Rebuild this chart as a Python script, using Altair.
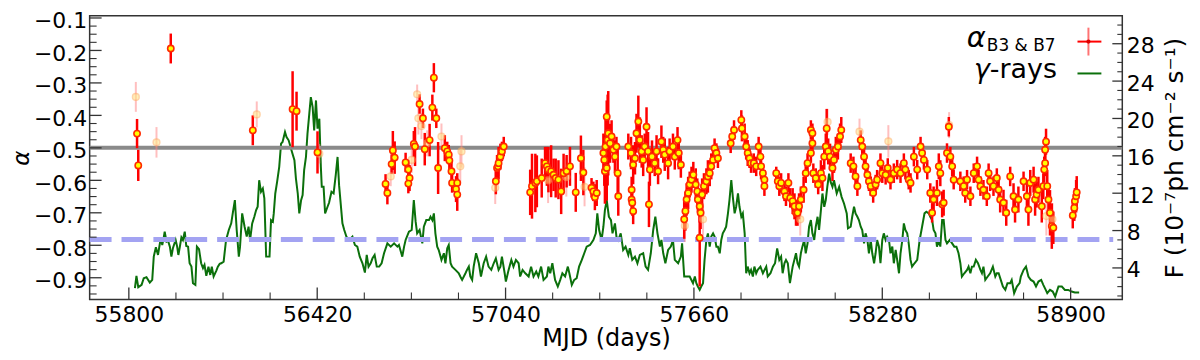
import altair as alt
import pandas as pd

# ---------------- data ----------------
# gamma-ray light curve (MJD, flux in 1e-7 ph cm^-2 s^-1)
gamma_mjd = [55820, 55825, 55831, 55842, 55849, 55858, 55869, 55877, 55882, 55889, 55896, 55900, 55905, 55910,
             55915, 55918, 55924, 55929, 55935, 55940, 55945, 55954, 55959, 55963, 55967, 55973, 55978, 55984,
             55989, 55995, 56000, 56006, 56011, 56019, 56024, 56031, 56038, 56044, 56049, 56055, 56062, 56068,
             56073, 56079, 56088, 56093, 56099, 56104, 56112, 56120, 56129, 56137, 56142, 56149, 56155, 56162,
             56166, 56173, 56181, 56188, 56194, 56199, 56206, 56213, 56219, 56224, 56229, 56235, 56241, 56246,
             56252, 56257, 56263, 56268, 56274, 56277, 56282, 56288, 56295, 56301, 56306, 56314, 56319, 56326,
             56337, 56345, 56350, 56356, 56361, 56367, 56372, 56377, 56383, 56388, 56394, 56399, 56405, 56410,
             56416, 56421, 56427, 56432, 56435, 56441, 56446, 56454, 56459, 56467, 56474, 56481, 56487, 56492,
             56503, 56509, 56516, 56525, 56536, 56544, 56552, 56560, 56569, 56577, 56583, 56589, 56596, 56602,
             56609, 56616, 56624, 56632, 56640, 56651, 56662, 56673, 56684,
             56689, 56700, 56706, 56711, 56722, 56731, 56738, 56744, 56749, 56757, 56766, 56771, 56779, 56788,
             56793, 56799, 56804, 56809, 56815, 56820, 56829, 56837, 56842, 56848, 56853, 56859, 56864, 56875,
             56886, 56891, 56897, 56908, 56913, 56919, 56924, 56930, 56935, 56943, 56952, 56959, 56968, 56976,
             56984, 56993, 57001, 57008, 57017, 57023, 57028, 57037, 57041, 57050, 57059, 57066, 57074, 57083,
             57088, 57096, 57105, 57116, 57124, 57132, 57141, 57148, 57157, 57165, 57176, 57181, 57187, 57194,
             57203, 57212, 57220, 57227, 57236, 57245, 57250, 57258, 57266, 57274, 57282, 57291, 57299, 57307,
             57318, 57329, 57337, 57342, 57348, 57356, 57362, 57367, 57373, 57380, 57387, 57392, 57400, 57405,
             57411, 57419, 57427, 57435, 57444, 57449, 57457, 57466, 57474, 57482, 57493, 57501, 57509, 57518,
             57526, 57533, 57540, 57548, 57553, 57559, 57566, 57575, 57584, 57591, 57597, 57608, 57617, 57621,
             57628, 57635, 57646, 57657, 57663, 57668, 57673, 57679, 57684, 57690, 57695, 57701, 57706, 57712,
             57717, 57723, 57728, 57734, 57739, 57745, 57750, 57755, 57761, 57766, 57772, 57777, 57783, 57788,
             57794, 57799, 57805, 57810, 57816, 57821, 57827, 57832, 57837, 57843, 57848, 57854, 57859, 57865,
             57870, 57879, 57887, 57898, 57903, 57912, 57920, 57927, 57934, 57941, 57947, 57952, 57958, 57963,
             57969, 57976, 57985, 57996,
             58001, 58006, 58012, 58017, 58023, 58028, 58034, 58039, 58045, 58050, 58056, 58061, 58067, 58072,
             58078, 58083, 58089, 58094, 58099, 58105, 58110, 58116, 58121, 58130, 58138, 58146, 58154, 58163,
             58167, 58176, 58181, 58187, 58192, 58198, 58203, 58209, 58214, 58220, 58225, 58231, 58236, 58242,
             58247, 58253, 58258, 58263, 58269, 58274, 58280, 58285, 58291, 58296, 58302, 58307, 58313, 58318,
             58324, 58329, 58335, 58340, 58346, 58351, 58356, 58362, 58367, 58373, 58378, 58386, 58395, 58403,
             58411, 58419, 58425, 58433, 58438, 58444, 58449, 58455, 58460, 58466, 58471, 58477, 58482, 58488,
             58493, 58502, 58510, 58517, 58524, 58531, 58537, 58542, 58550, 58559, 58564, 58570, 58575, 58581,
             58588, 58595, 58603, 58608, 58613, 58619, 58627, 58635, 58644, 58652, 58657, 58663, 58670, 58677,
             58685, 58692, 58701, 58706, 58714, 58723, 58732, 58736, 58745, 58753, 58761, 58769, 58778, 58786,
             58794, 58803, 58810, 58818, 58823, 58832, 58841, 58849, 58860, 58871, 58881, 58892, 58903, 58914,
             58928]
gamma_flux = [1.83, 3.15, 1.94, 2.19, 2.90, 3.01, 2.44, 2.72, 5.21, 6.21, 5.39, 6.21, 7.17, 6.46,
              7.27, 7.88, 6.81, 6.92, 6.28, 5.21, 6.10, 6.99, 6.28, 5.39, 6.10, 7.27, 6.99, 7.88,
              6.35, 6.28, 4.50, 4.14, 2.37, 2.19, 6.28, 6.00, 4.50, 3.97, 4.32, 3.15, 4.14, 3.25,
              4.14, 3.08, 3.72, 4.14, 4.43, 4.50, 4.68, 6.99, 8.06, 8.77, 9.84, 11.26, 8.06, 5.21,
              6.28, 9.84, 8.41, 7.35, 8.41, 6.99, 8.77, 9.48, 10.19, 10.55, 13.39, 12.15, 12.50, 11.44,
              5.21, 5.21, 5.21, 9.12, 8.95, 9.84, 11.97, 13.21, 14.82, 17.30, 17.48, 18.55, 18.02, 17.66,
              16.42, 15.53, 13.57, 11.97, 9.84, 11.26, 11.79, 14.46, 15.88, 18.37, 20.51, 22.28, 21.22, 18.73,
              21.93, 18.91, 19.97, 14.82, 12.68, 12.68, 9.84, 10.55, 10.97, 12.15, 11.97, 13.93, 15.88, 12.86,
              8.77, 8.06, 7.35, 6.99, 7.35, 6.46, 6.28, 5.21, 4.50, 3.50, 5.39, 4.14, 4.50, 5.03,
              5.39, 4.14, 4.14, 4.50, 5.57, 6.63, 6.28, 6.63, 6.28,
              6.46, 5.21, 6.28, 6.99, 7.88, 8.06, 11.26, 8.95, 7.70, 8.06, 6.63, 8.41, 9.12, 9.12,
              9.48, 9.12, 9.84, 7.70, 6.28, 5.92, 4.86, 5.57, 4.50, 6.10, 6.46, 4.50, 4.14, 3.79,
              3.43, 3.08, 2.72, 3.43, 3.79, 4.14, 3.08, 2.72, 4.14, 5.57, 4.50, 3.08, 4.50, 5.21,
              4.14, 3.79, 4.50, 5.03, 3.79, 4.14, 5.21, 3.43, 2.54, 3.79, 4.86, 4.14, 4.86, 4.50,
              3.08, 3.79, 3.43, 3.08, 4.14, 3.08, 3.61, 3.08, 4.14, 2.72, 3.08, 4.14, 3.43, 4.50,
              2.72, 2.01, 2.72, 3.43, 3.08, 4.14, 3.43, 2.19, 2.72, 2.90, 4.14, 4.86, 5.57, 6.28,
              6.46, 6.99, 7.70, 9.84, 8.06, 6.99, 8.41, 10.19, 11.26, 9.48, 9.12, 7.70, 8.77, 7.35,
              6.99, 7.70, 5.92, 6.28, 5.39, 6.10, 4.86, 5.21, 4.50, 5.39, 5.57, 4.14, 3.79, 5.57,
              8.06, 9.48, 7.70, 6.28, 6.99, 5.57, 4.50, 5.92, 6.28, 6.99, 4.86, 4.50, 5.21, 6.63,
              3.08, 3.08, 3.08, 2.37, 3.08, 2.37, 2.01, 1.65, 2.01, 2.37, 4.86, 6.99, 7.70, 6.28,
              7.35, 7.70, 7.35, 6.28, 6.28, 5.57, 6.99, 7.70, 8.06, 8.41, 9.84, 11.26, 13.39, 11.61,
              9.84, 10.55, 11.97, 10.55, 9.48, 9.84, 7.70, 3.43, 4.14, 3.43, 3.79, 3.08, 4.14, 3.43,
              3.79, 4.14, 3.43, 4.14, 3.08, 3.43, 4.14, 4.50, 6.10, 4.86, 5.21, 3.43, 4.50, 4.86,
              4.50, 2.37, 4.14, 5.57,
              4.50, 4.14, 5.57, 6.28, 6.99, 5.57, 6.63, 8.41, 9.12, 7.70, 6.99, 8.41, 9.48, 8.06,
              10.19, 11.97, 10.55, 11.26, 12.68, 14.10, 13.21, 12.68, 13.39, 11.97, 12.68, 11.61, 10.90, 9.84,
              8.23, 8.41, 9.48, 10.55, 9.84, 9.48, 9.12, 8.41, 8.06, 6.63, 7.70, 6.99, 5.57, 6.99,
              5.57, 4.50, 5.57, 6.99, 6.28, 4.50, 6.99, 7.70, 6.99, 7.35, 6.99, 5.57, 6.28, 4.50,
              5.92, 4.86, 3.43, 5.57, 6.99, 8.77, 8.06, 7.70, 6.63, 4.86, 4.14, 4.50, 4.86, 6.99,
              8.41, 9.84, 10.01, 9.84, 9.48, 9.12, 8.06, 7.70, 6.28, 6.99, 6.28, 9.12, 9.12, 6.99,
              6.63, 6.99, 6.63, 6.28, 6.28, 5.57, 4.50, 3.08, 3.43, 3.79, 4.14, 3.43, 4.14, 4.14,
              4.86, 4.50, 3.79, 3.43, 4.14, 2.72, 3.08, 3.43, 4.14, 3.08, 3.43, 3.43, 2.72, 2.01,
              1.65, 2.37, 2.37, 2.72, 1.30, 2.01, 2.37, 3.08, 3.79, 4.14, 3.08, 2.72, 2.54, 2.01,
              2.54, 2.72, 2.19, 1.65, 1.30, 1.65, 1.47, 0.94, 2.01, 2.01, 1.65, 1.65, 1.47, 1.37,
              1.37]

# spectral index alpha (B3 & B7), well-measured points
strong_mjd = [55827, 55831, 55938, 56208, 56339, 56352, 56421, 56645, 56651, 56665, 56669, 56675,
              56711, 56720, 56724, 56720, 56738, 56742, 56757, 56768, 56774, 56790, 56799, 56804, 56812, 56818,
              56840, 56848, 56853, 56855, 56862, 56864, 56881, 56877, 56881,
              57008, 57012, 57015, 57017, 57023, 57028, 57034,
              57121, 57127, 57138, 57143, 57159, 57170, 57176, 57181, 57190, 57198, 57205, 57214, 57223, 57231,
              57241, 57252, 57271, 57288, 57296, 57323, 57329, 57334, 57340,
              57362, 57367, 57373, 57365, 57369, 57376, 57378, 57373, 57384, 57389, 57395, 57400, 57405, 57409, 57411,
              57444, 57453, 57460, 57466, 57471, 57477, 57482, 57488, 57493, 57498, 57504, 57509, 57515, 57522,
              57531, 57537, 57542, 57553, 57559, 57564, 57575, 57580, 57591, 57597, 57606, 57610, 57617,
              57455, 57455, 57460, 57457, 57512,
              57628, 57632, 57636, 57641, 57646, 57652, 57658, 57666, 57671, 57673, 57679, 57682, 57687, 57693,
              57701, 57706, 57712, 57717, 57723, 57728, 57734, 57739, 57679,
              57781, 57786, 57792, 57816, 57818, 57827, 57832, 57837, 57843, 57848, 57857, 57865, 57873, 57879,
              57881, 57887, 57892, 57892, 57931, 57936, 57941, 57947, 57958, 57963, 57971, 57977, 57985, 57991, 57996,
              58001, 58006, 58012, 58021, 58028, 58034, 58045, 58050, 58045, 58050, 58053, 58061, 58069, 58078,
              58083, 58089, 58094, 58097, 58102, 58108, 58116, 58121, 58127, 58134, 58141, 58145,
              58176, 58185, 58192, 58198, 58209, 58214, 58220, 58225, 58231, 58236, 58242, 58250, 58258, 58263,
              58274, 58280, 58291, 58298, 58307, 58318, 58329, 58340, 58351, 58356, 58367, 58373, 58384, 58395,
              58406, 58411, 58417, 58428, 58438, 58444, 58449, 58460, 58466, 58471, 58477, 58482,
              58493, 58499, 58504, 58510, 58515, 58537, 58548, 58553, 58559, 58570, 58581, 58592, 58597, 58603,
              58613, 58624, 58630, 58635, 58646, 58657, 58663, 58668, 58679, 58688, 58701, 58712, 58717, 58728,
              58745, 58756, 58761, 58767, 58778, 58783, 58788, 58794, 58805, 58810, 58813, 58816, 58816, 58819,
              58823, 58827, 58832, 58838, 58843, 58907, 58912, 58914, 58918, 58920]
strong_alpha = [-0.456, -0.554, -0.194, -0.446, -0.381, -0.387, -0.514, -0.611, -0.639, -0.550, -0.508, -0.530,
                -0.545, -0.567, -0.593, -0.610, -0.488, -0.496, -0.365, -0.409, -0.504, -0.476, -0.376, -0.284, -0.409, -0.562,
                -0.501, -0.511, -0.521, -0.539, -0.572, -0.608, -0.608, -0.627, -0.644,
                -0.603, -0.562, -0.557, -0.547, -0.527, -0.511, -0.496,
                -0.637, -0.618, -0.608, -0.603, -0.593, -0.547, -0.557, -0.567, -0.572, -0.583, -0.593, -0.598, -0.634, -0.578,
                -0.572, -0.557, -0.637, -0.532, -0.576, -0.623, -0.634, -0.652, -0.639,
                -0.516, -0.572, -0.562, -0.537, -0.496, -0.476, -0.455, -0.404, -0.486, -0.465, -0.506, -0.527, -0.496, -0.578, -0.649,
                -0.496, -0.516, -0.552, -0.532, -0.455, -0.419, -0.476, -0.511, -0.537, -0.496, -0.435, -0.511, -0.567, -0.527,
                -0.547, -0.511, -0.572, -0.481, -0.506, -0.521, -0.547, -0.511, -0.496, -0.527, -0.476, -0.516, -0.552,
                -0.629, -0.659, -0.695, -0.669, -0.674,
                -0.720, -0.695, -0.659, -0.639, -0.613, -0.598, -0.583, -0.613, -0.634, -0.659, -0.680, -0.700, -0.644, -0.618,
                -0.603, -0.588, -0.578, -0.557, -0.537, -0.501, -0.516, -0.532, -0.777,
                -0.486, -0.465, -0.445, -0.414, -0.440, -0.465, -0.496, -0.516, -0.532, -0.547, -0.547, -0.557, -0.496, -0.527,
                -0.557, -0.578, -0.598, -0.618, -0.578, -0.603, -0.618, -0.608, -0.634, -0.649, -0.608, -0.654, -0.664, -0.680, -0.700,
                -0.700, -0.680, -0.659, -0.629, -0.578, -0.547, -0.516, -0.486, -0.445, -0.455, -0.578, -0.593, -0.613, -0.578,
                -0.593, -0.527, -0.496, -0.440, -0.511, -0.527, -0.562, -0.537, -0.506, -0.496, -0.465, -0.445,
                -0.547, -0.557, -0.588, -0.618, -0.476, -0.496, -0.527, -0.557, -0.583, -0.603, -0.618, -0.639, -0.613, -0.598,
                -0.547, -0.578, -0.583, -0.562, -0.598, -0.578, -0.567, -0.578, -0.547, -0.567, -0.598, -0.608, -0.527, -0.567,
                -0.496, -0.516, -0.537, -0.567, -0.639, -0.700, -0.659, -0.639, -0.557, -0.578, -0.674, -0.669,
                -0.516, -0.435, -0.527, -0.557, -0.598, -0.603, -0.618, -0.639, -0.598, -0.649, -0.578, -0.557, -0.598, -0.618,
                -0.629, -0.649, -0.578, -0.603, -0.618, -0.593, -0.629, -0.659, -0.669, -0.700, -0.588, -0.649, -0.690, -0.659,
                -0.603, -0.649, -0.690, -0.608, -0.598, -0.659, -0.644, -0.629, -0.680, -0.618, -0.567, -0.547, -0.506, -0.481,
                -0.618, -0.659, -0.700, -0.741, -0.746, -0.708, -0.685, -0.664, -0.649, -0.637]
strong_err = [0.045, 0.048, 0.046, 0.046, 0.117, 0.06, 0.065, 0.03, 0.035, 0.03, 0.06, 0.05,
              0.03, 0.03, 0.04, 0.03, 0.04, 0.06, 0.03, 0.03, 0.05, 0.05, 0.04, 0.045, 0.03, 0.08,
              0.04, 0.03, 0.03, 0.03, 0.03, 0.03, 0.03, 0.04, 0.05,
              0.04, 0.04, 0.03, 0.05, 0.04, 0.03, 0.03,
              0.07, 0.10, 0.09, 0.08, 0.06, 0.05, 0.06, 0.07, 0.08, 0.05, 0.06, 0.06, 0.07, 0.06,
              0.05, 0.06, 0.06, 0.07, 0.07, 0.03, 0.03, 0.04, 0.04,
              0.06, 0.10, 0.10, 0.08, 0.10, 0.14, 0.13, 0.05, 0.06, 0.05, 0.04, 0.05, 0.03, 0.08, 0.06,
              0.04, 0.05, 0.06, 0.05, 0.06, 0.08, 0.07, 0.05, 0.05, 0.04, 0.06, 0.06, 0.05, 0.05,
              0.04, 0.05, 0.04, 0.05, 0.04, 0.05, 0.05, 0.04, 0.04, 0.04, 0.04, 0.05, 0.04,
              0.04, 0.04, 0.04, 0.04, 0.07,
              0.06, 0.06, 0.05, 0.05, 0.04, 0.04, 0.04, 0.05, 0.04, 0.04, 0.05, 0.05, 0.05, 0.04,
              0.04, 0.05, 0.04, 0.04, 0.03, 0.03, 0.03, 0.03, 0.15,
              0.03, 0.03, 0.03, 0.03, 0.04, 0.04, 0.04, 0.04, 0.03, 0.03, 0.03, 0.03, 0.03, 0.03,
              0.04, 0.03, 0.03, 0.03, 0.02, 0.02, 0.03, 0.03, 0.03, 0.03, 0.03, 0.03, 0.04, 0.04, 0.04,
              0.04, 0.04, 0.04, 0.04, 0.03, 0.03, 0.03, 0.03, 0.03, 0.03, 0.03, 0.03, 0.03, 0.04,
              0.04, 0.04, 0.04, 0.06, 0.04, 0.04, 0.04, 0.04, 0.04, 0.04, 0.04, 0.04,
              0.03, 0.03, 0.03, 0.03, 0.03, 0.03, 0.03, 0.03, 0.03, 0.03, 0.03, 0.03, 0.03, 0.03,
              0.03, 0.03, 0.03, 0.03, 0.03, 0.03, 0.03, 0.03, 0.03, 0.03, 0.03, 0.03, 0.03, 0.03,
              0.03, 0.03, 0.03, 0.03, 0.03, 0.03, 0.04, 0.04, 0.04, 0.04, 0.04, 0.04,
              0.03, 0.03, 0.03, 0.03, 0.03, 0.03, 0.03, 0.03, 0.03, 0.03, 0.03, 0.03, 0.03, 0.03,
              0.03, 0.03, 0.03, 0.03, 0.03, 0.03, 0.03, 0.04, 0.04, 0.04, 0.03, 0.04, 0.04, 0.04,
              0.03, 0.04, 0.05, 0.04, 0.04, 0.05, 0.04, 0.04, 0.05, 0.04, 0.04, 0.04, 0.04, 0.04,
              0.05, 0.05, 0.07, 0.07, 0.05, 0.04, 0.04, 0.04, 0.05, 0.05]

# spectral index, poorly-measured (faded) points
faint_mjd = [55823, 55891, 56221, 56427, 56662, 56731, 56749, 56753, 56763, 56782, 56829, 56895, 56891,
             57006, 57180, 57240, 57300, 57630, 57690, 58010, 58100, 58205, 58300, 58500, 58820, 58840]
faint_alpha = [-0.343, -0.483, -0.397, -0.518, -0.588, -0.537, -0.335, -0.409, -0.433, -0.486, -0.465, -0.511, -0.557,
               -0.623, -0.600, -0.590, -0.620, -0.740, -0.720, -0.720, -0.420, -0.450, -0.480, -0.430, -0.710, -0.720]
faint_err = [0.046, 0.047, 0.04, 0.03, 0.03, 0.04, 0.03, 0.05, 0.04, 0.04, 0.04, 0.05, 0.05,
             0.05, 0.07, 0.06, 0.06, 0.05, 0.05, 0.05, 0.04, 0.04, 0.05, 0.04, 0.06, 0.05]

# reference levels
alpha_ref = -0.5
alpha_dash = -0.782
dash_span = [55671, 59040]

x_major = [55800, 56420, 57040, 57660, 58280, 58900]
alpha_major = [-0.9, -0.8, -0.7, -0.6, -0.5, -0.4, -0.3, -0.2, -0.1]
flux_major = [4, 8, 12, 16, 20, 24, 28]

# ---------------- layout ----------------
W, H = 1037, 285
X_DOMAIN = [55671, 59070]
A_DOMAIN = [-0.967, -0.093]
F_DOMAIN = [0.62, 31.0]
FONT = "DejaVu Sans"

xs = alt.Scale(domain=X_DOMAIN, nice=False, zero=False)
ya = alt.Scale(domain=A_DOMAIN, nice=False, zero=False)
yf = alt.Scale(domain=F_DOMAIN, nice=False, zero=False)

x_minor = [55800 + 155 * k for k in range(21) if (55800 + 155 * k) not in x_major]
a_minor = [round(-0.95 + 0.025 * k, 3) for k in range(35)]
a_minor = [v for v in a_minor if all(abs(v - m) > 1e-6 for m in alpha_major)]
f_minor = [v for v in range(1, 31) if v not in flux_major]

strong = pd.DataFrame({"mjd": strong_mjd, "alpha": strong_alpha, "err": strong_err})
strong["lo"] = strong["alpha"] - strong["err"]
strong["hi"] = strong["alpha"] + strong["err"]
faint = pd.DataFrame({"mjd": faint_mjd, "alpha": faint_alpha, "err": faint_err})
faint["lo"] = faint["alpha"] - faint["err"]
faint["hi"] = faint["alpha"] + faint["err"]
gamma = pd.DataFrame({"mjd": gamma_mjd, "flux": gamma_flux})
refline = pd.DataFrame({"mjd": [X_DOMAIN[0], X_DOMAIN[1]], "alpha": [alpha_ref, alpha_ref]})
dashline = pd.DataFrame({"mjd": dash_span, "alpha": [alpha_dash, alpha_dash]})
dummy = pd.DataFrame({"a": [0]})

x_axis = alt.Axis(values=x_major, format="d", title="MJD (days)", labelFontSize=22, titleFontSize=24,
                  labelFont=FONT, titleFont=FONT, titleFontWeight="normal", tickSize=0, labelPadding=5,
                  titlePadding=1, domain=False, grid=False, labelColor="black", titleColor="black")
a_axis = alt.Axis(orient="left", values=alpha_major, format=".1f", title="α", labelFontSize=22,
                  titleFontSize=23, labelFont=FONT, titleFont=FONT, titleFontWeight="normal",
                  titleFontStyle="italic", tickSize=0, labelPadding=3, labelOffset=3, domain=False,
                  grid=False, labelColor="black", titleColor="black", titlePadding=0)
f_axis = alt.Axis(orient="right", values=flux_major, format="d", title="F (10⁻⁷ph cm⁻² s⁻¹)",
                  labelFontSize=22, titleFontSize=25, labelFont=FONT, titleFont=FONT,
                  titleFontWeight="normal", tickSize=0, labelPadding=4, labelOffset=2, domain=False,
                  grid=False, labelColor="black", titleColor="black", titleAngle=270,
                  titleBaseline="top", titlePadding=8)


def X(f="mjd"):
    # every layer carries the same explicit x axis so that the shared axis merges cleanly
    return alt.X(f"{f}:Q", scale=xs, axis=x_axis)


def YA(f="alpha"):
    return alt.Y(f"{f}:Q", scale=ya, axis=None)


# ---- flux (right axis) ----
green = alt.Chart(gamma).mark_line(color="#0b700b", strokeWidth=2).encode(
    x=X(), y=alt.Y("flux:Q", scale=yf, axis=f_axis))
f_tick_major = alt.Chart(pd.DataFrame({"v": flux_major})).mark_rule(color="#333333", strokeWidth=1.3).encode(
    y=alt.Y("v:Q", scale=yf, axis=None), x=alt.value(W - 10), x2=alt.value(W))
f_tick_minor = alt.Chart(pd.DataFrame({"v": f_minor})).mark_rule(color="#333333", strokeWidth=1.1).encode(
    y=alt.Y("v:Q", scale=yf, axis=None), x=alt.value(W - 5), x2=alt.value(W))

# ---- alpha (left axis) ----
gray = alt.Chart(refline).mark_line(color="#8a8a8a", strokeWidth=4).encode(
    x=X(), y=alt.Y("alpha:Q", scale=ya, axis=a_axis))
dashed = alt.Chart(dashline).mark_line(color="#a3a3f2", strokeWidth=5, strokeDash=[22, 10]).encode(
    x=X(), y=YA())
faint_bar = alt.Chart(faint).mark_rule(color="#ff8080", strokeWidth=2, opacity=0.5).encode(
    x=X(), y=YA("lo"), y2="hi:Q")
strong_bar = alt.Chart(strong).mark_rule(color="#ff0000", strokeWidth=2.5).encode(
    x=X(), y=YA("lo"), y2="hi:Q")
faint_pt = alt.Chart(faint).mark_point(shape="circle", size=45, fill="#ffe680", stroke="#ffb060",
                                       strokeWidth=1.5, opacity=0.55, fillOpacity=1).encode(
    x=X(), y=YA())
strong_pt = alt.Chart(strong).mark_point(shape="circle", size=40, fill="#ffff00", stroke="#ff2a00",
                                         strokeWidth=1.6, opacity=1, fillOpacity=1).encode(
    x=X(), y=YA())

x_tick_major = alt.Chart(pd.DataFrame({"mjd": x_major})).mark_rule(color="#333333", strokeWidth=1.3).encode(
    x=X(), y=alt.value(H - 12), y2=alt.value(H))
x_tick_minor = alt.Chart(pd.DataFrame({"mjd": x_minor})).mark_rule(color="#333333", strokeWidth=1.1).encode(
    x=X(), y=alt.value(H - 7), y2=alt.value(H))
a_tick_major = alt.Chart(pd.DataFrame({"v": alpha_major})).mark_rule(color="#333333", strokeWidth=1.3).encode(
    y=alt.Y("v:Q", scale=ya, axis=None), x=alt.value(0), x2=alt.value(12))
a_tick_minor = alt.Chart(pd.DataFrame({"v": a_minor})).mark_rule(color="#333333", strokeWidth=1.1).encode(
    y=alt.Y("v:Q", scale=ya, axis=None), x=alt.value(0), x2=alt.value(7))

# ---- legend (drawn by hand, upper right) ----
leg_alpha = alt.Chart(dummy).mark_text(text="α", font=FONT, fontSize=29, fontStyle="italic", align="right",
                                       baseline="alphabetic", color="black").encode(
    x=alt.value(900), y=alt.value(31))
leg_sub = alt.Chart(dummy).mark_text(text="B3 & B7", font=FONT, fontSize=17, align="left",
                                     baseline="alphabetic", color="black").encode(
    x=alt.value(901), y=alt.value(35))
leg_gamma = alt.Chart(dummy).mark_text(text="γ", font=FONT, fontSize=27, fontStyle="italic", align="right",
                                       baseline="alphabetic", color="black").encode(
    x=alt.value(904), y=alt.value(63))
leg_rays = alt.Chart(dummy).mark_text(text="-rays", font=FONT, fontSize=27, align="left",
                                      baseline="alphabetic", color="black").encode(
    x=alt.value(904), y=alt.value(63))
leg_vbar = alt.Chart(dummy).mark_rule(color="#ff0000", strokeWidth=2, opacity=0.55).encode(
    x=alt.value(1003), y=alt.value(12), y2=alt.value(40))
leg_hbar = alt.Chart(dummy).mark_rule(color="#ff0000", strokeWidth=2).encode(
    x=alt.value(992), x2=alt.value(1016), y=alt.value(26))
leg_dot = alt.Chart(dummy).mark_point(shape="circle", size=18, filled=True, color="#dd0000", opacity=1).encode(
    x=alt.value(1003), y=alt.value(26))
leg_green = alt.Chart(dummy).mark_rule(color="#0b700b", strokeWidth=2).encode(
    x=alt.value(992), x2=alt.value(1016), y=alt.value(58))

chart = alt.layer(
    green, gray, dashed, faint_bar, strong_bar, faint_pt, strong_pt,
    x_tick_major, x_tick_minor, a_tick_major, a_tick_minor, f_tick_major, f_tick_minor,
    leg_alpha, leg_sub, leg_gamma, leg_rays, leg_vbar, leg_hbar, leg_dot, leg_green,
).resolve_scale(y="independent").properties(
    width=W, height=H,
    autosize=alt.AutoSizeParams(type="none"),
    padding={"left": 82, "top": 7, "right": 70, "bottom": 57},
    background="white",
).configure_view(stroke="#333333", strokeWidth=1.5)

chart.save("out.html", embed_options={"renderer": "svg", "actions": False})
